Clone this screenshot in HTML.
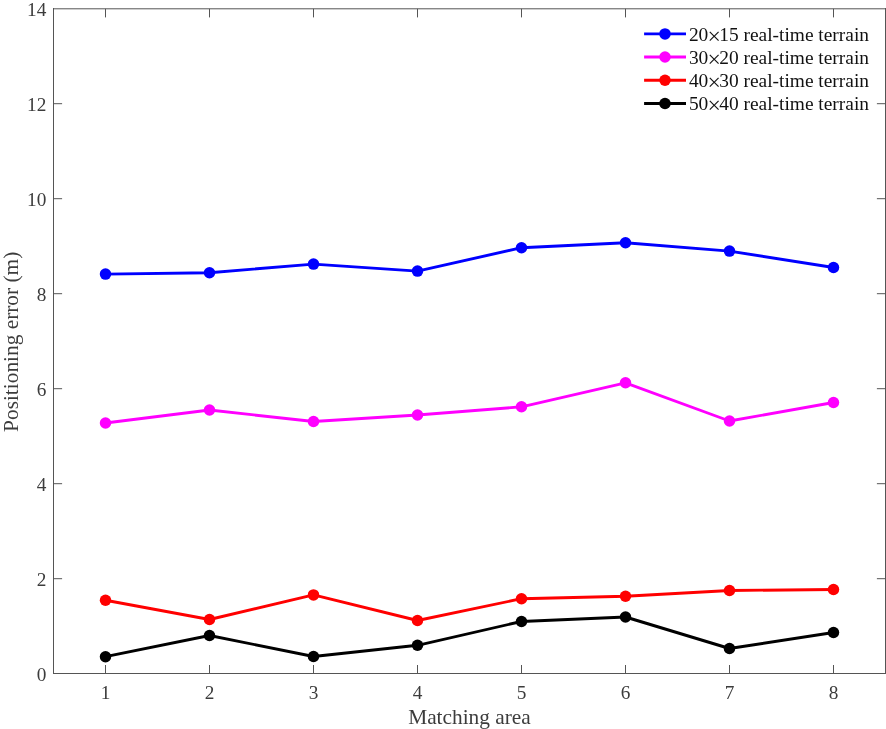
<!DOCTYPE html>
<html lang="en"><head><meta charset="utf-8"><title>Positioning error vs matching area</title>
<style>
html,body{margin:0;padding:0;background:#fff;}
body{width:886px;height:729px;overflow:hidden;position:relative;}
svg{position:absolute;left:0;top:0;display:block;}
text{font-family:"Liberation Serif","Times New Roman",Times,serif;}
.tk{font-size:19.3px;fill:#3c3c3c;}
.lb{font-size:21.35px;fill:#3c3c3c;}
.lg{font-size:19.42px;fill:#111;}
</style></head><body>
<svg width="886" height="729" viewBox="0 0 886 729">
<rect x="0" y="0" width="886" height="729" fill="#ffffff"/>

<g stroke="#555555" stroke-width="1" fill="none" shape-rendering="crispEdges">
<path d="M53.5 8.3V673.5H885.5V8.3"/>
<line x1="105.5" y1="673.5" x2="105.5" y2="664.9"/>
<line x1="209.5" y1="673.5" x2="209.5" y2="664.9"/>
<line x1="313.5" y1="673.5" x2="313.5" y2="664.9"/>
<line x1="417.5" y1="673.5" x2="417.5" y2="664.9"/>
<line x1="521.5" y1="673.5" x2="521.5" y2="664.9"/>
<line x1="625.5" y1="673.5" x2="625.5" y2="664.9"/>
<line x1="729.5" y1="673.5" x2="729.5" y2="664.9"/>
<line x1="833.5" y1="673.5" x2="833.5" y2="664.9"/>
</g>
<g stroke="#555555" stroke-width="1" fill="none">
<line x1="53.0" y1="8.8" x2="886.0" y2="8.8"/>
<line x1="105.5" y1="8.8" x2="105.5" y2="17.4"/>
<line x1="209.5" y1="8.8" x2="209.5" y2="17.4"/>
<line x1="313.5" y1="8.8" x2="313.5" y2="17.4"/>
<line x1="417.5" y1="8.8" x2="417.5" y2="17.4"/>
<line x1="521.5" y1="8.8" x2="521.5" y2="17.4"/>
<line x1="625.5" y1="8.8" x2="625.5" y2="17.4"/>
<line x1="729.5" y1="8.8" x2="729.5" y2="17.4"/>
<line x1="833.5" y1="8.8" x2="833.5" y2="17.4"/>
<line x1="53.5" y1="578.7" x2="62.1" y2="578.7"/>
<line x1="885.5" y1="578.7" x2="876.9" y2="578.7"/>
<line x1="53.5" y1="483.7" x2="62.1" y2="483.7"/>
<line x1="885.5" y1="483.7" x2="876.9" y2="483.7"/>
<line x1="53.5" y1="388.7" x2="62.1" y2="388.7"/>
<line x1="885.5" y1="388.7" x2="876.9" y2="388.7"/>
<line x1="53.5" y1="293.7" x2="62.1" y2="293.7"/>
<line x1="885.5" y1="293.7" x2="876.9" y2="293.7"/>
<line x1="53.5" y1="198.7" x2="62.1" y2="198.7"/>
<line x1="885.5" y1="198.7" x2="876.9" y2="198.7"/>
<line x1="53.5" y1="103.7" x2="62.1" y2="103.7"/>
<line x1="885.5" y1="103.7" x2="876.9" y2="103.7"/>
</g>
<g class="tk" text-anchor="middle">
<text x="105.5" y="698.9">1</text>
<text x="209.5" y="698.9">2</text>
<text x="313.5" y="698.9">3</text>
<text x="417.5" y="698.9">4</text>
<text x="521.5" y="698.9">5</text>
<text x="625.5" y="698.9">6</text>
<text x="729.5" y="698.9">7</text>
<text x="833.5" y="698.9">8</text>
</g>
<g class="tk" text-anchor="end">
<text x="46.4" y="681.2">0</text>
<text x="46.4" y="586.2">2</text>
<text x="46.4" y="491.2">4</text>
<text x="46.4" y="396.2">6</text>
<text x="46.4" y="301.2">8</text>
<text x="46.4" y="206.2">10</text>
<text x="46.4" y="111.2">12</text>
<text x="46.4" y="16.2">14</text>
</g>
<text class="lb" text-anchor="middle" x="469.5" y="723.6">Matching area</text>
<text class="lb" text-anchor="middle" transform="translate(17.6 341.8) rotate(-90)">Positioning error (m)</text>
<polyline points="105.5,274.1 209.5,272.7 313.5,264.1 417.5,271.1 521.5,247.7 625.5,242.8 729.5,251.1 833.5,267.5" fill="none" stroke="#0000ff" stroke-width="2.9" stroke-linejoin="round"/>
<g fill="#0000ff"><circle cx="105.5" cy="274.1" r="5.75"/><circle cx="209.5" cy="272.7" r="5.75"/><circle cx="313.5" cy="264.1" r="5.75"/><circle cx="417.5" cy="271.1" r="5.75"/><circle cx="521.5" cy="247.7" r="5.75"/><circle cx="625.5" cy="242.8" r="5.75"/><circle cx="729.5" cy="251.1" r="5.75"/><circle cx="833.5" cy="267.5" r="5.75"/></g>
<polyline points="105.5,423.0 209.5,410.0 313.5,421.5 417.5,415.0 521.5,406.8 625.5,382.8 729.5,421.0 833.5,402.5" fill="none" stroke="#ff00ff" stroke-width="2.9" stroke-linejoin="round"/>
<g fill="#ff00ff"><circle cx="105.5" cy="423.0" r="5.75"/><circle cx="209.5" cy="410.0" r="5.75"/><circle cx="313.5" cy="421.5" r="5.75"/><circle cx="417.5" cy="415.0" r="5.75"/><circle cx="521.5" cy="406.8" r="5.75"/><circle cx="625.5" cy="382.8" r="5.75"/><circle cx="729.5" cy="421.0" r="5.75"/><circle cx="833.5" cy="402.5" r="5.75"/></g>
<polyline points="105.5,600.2 209.5,619.5 313.5,594.9 417.5,620.5 521.5,598.7 625.5,596.2 729.5,590.5 833.5,589.5" fill="none" stroke="#ff0000" stroke-width="2.9" stroke-linejoin="round"/>
<g fill="#ff0000"><circle cx="105.5" cy="600.2" r="5.75"/><circle cx="209.5" cy="619.5" r="5.75"/><circle cx="313.5" cy="594.9" r="5.75"/><circle cx="417.5" cy="620.5" r="5.75"/><circle cx="521.5" cy="598.7" r="5.75"/><circle cx="625.5" cy="596.2" r="5.75"/><circle cx="729.5" cy="590.5" r="5.75"/><circle cx="833.5" cy="589.5" r="5.75"/></g>
<polyline points="105.5,656.7 209.5,635.5 313.5,656.5 417.5,645.3 521.5,621.5 625.5,617.0 729.5,648.5 833.5,632.5" fill="none" stroke="#000000" stroke-width="2.9" stroke-linejoin="round"/>
<g fill="#000000"><circle cx="105.5" cy="656.7" r="5.75"/><circle cx="209.5" cy="635.5" r="5.75"/><circle cx="313.5" cy="656.5" r="5.75"/><circle cx="417.5" cy="645.3" r="5.75"/><circle cx="521.5" cy="621.5" r="5.75"/><circle cx="625.5" cy="617.0" r="5.75"/><circle cx="729.5" cy="648.5" r="5.75"/><circle cx="833.5" cy="632.5" r="5.75"/></g>
<line x1="644.1" y1="33.9" x2="686" y2="33.9" stroke="#0000ff" stroke-width="2.9"/>
<circle cx="665" cy="33.9" r="5.75" fill="#0000ff"/>
<text class="lg" x="688.9" y="40.8">20<tspan font-size="23.6" dx="-0.7" dy="3">×</tspan><tspan dx="-1.7" dy="-3">15 real-time terrain</tspan></text>
<line x1="644.1" y1="57.0" x2="686" y2="57.0" stroke="#ff00ff" stroke-width="2.9"/>
<circle cx="665" cy="57.0" r="5.75" fill="#ff00ff"/>
<text class="lg" x="688.9" y="63.9">30<tspan font-size="23.6" dx="-0.7" dy="3">×</tspan><tspan dx="-1.7" dy="-3">20 real-time terrain</tspan></text>
<line x1="644.1" y1="80.25" x2="686" y2="80.25" stroke="#ff0000" stroke-width="2.9"/>
<circle cx="665" cy="80.25" r="5.75" fill="#ff0000"/>
<text class="lg" x="688.9" y="87.2">40<tspan font-size="23.6" dx="-0.7" dy="3">×</tspan><tspan dx="-1.7" dy="-3">30 real-time terrain</tspan></text>
<line x1="644.1" y1="103.5" x2="686" y2="103.5" stroke="#000000" stroke-width="2.9"/>
<circle cx="665" cy="103.5" r="5.75" fill="#000000"/>
<text class="lg" x="688.9" y="110.4">50<tspan font-size="23.6" dx="-0.7" dy="3">×</tspan><tspan dx="-1.7" dy="-3">40 real-time terrain</tspan></text>
</svg>
</body></html>
